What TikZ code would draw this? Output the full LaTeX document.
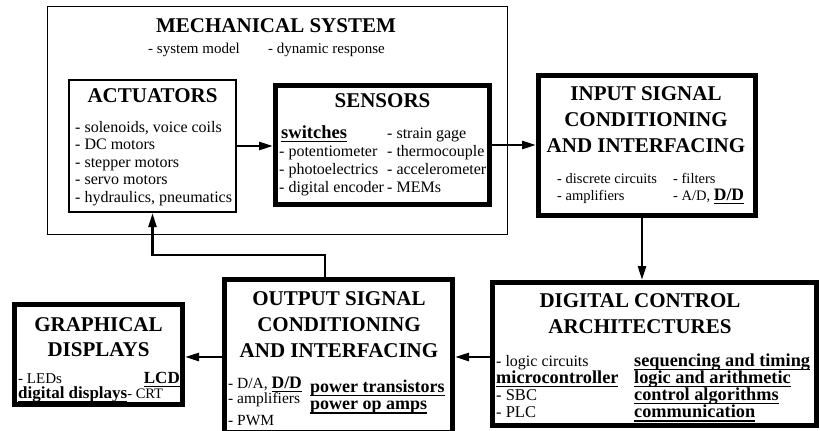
\documentclass[tikz,border=0pt]{standalone}
\usepackage{fontspec}
\setmainfont{Liberation Serif}
\usetikzlibrary{arrows.meta,positioning}

% bold text with a heavier underline close to the baseline
\newcommand{\bul}[1]{\leavevmode\setbox0\hbox{\textbf{#1}}\rlap{\rule[-4pt]{\wd0}{1.1pt}}\box0}
\newcommand{\fs}[1]{\fontsize{#1}{#1}\selectfont}

\begin{document}
\begin{tikzpicture}[x=1pt, y=-1pt,
	thinbox/.style={draw, line width=1.2pt, inner sep=0pt},
	actbox/.style={draw, line width=2.2pt, inner sep=0pt},
	thickbox/.style={draw, line width=5pt, inner sep=0pt},
	title/.style={anchor=base, inner sep=0pt, font=\fs{21}\bfseries},
	item/.style={anchor=base west, inner sep=0pt, font=\fs{16}},
	conn/.style={line width=2.5pt, -{Triangle[length=14pt,width=8pt]}}]

		\useasboundingbox (0,0) rectangle (820,431);

		% mechanical system (outer frame)
		\node[thinbox, minimum width=460pt, minimum height=228pt] (mech) at (277.5,120.5) {};
		\node[title] (mech-t) at (276,32) {MECHANICAL SYSTEM};
		\node[item, font=\fs{15}] (mech-a) at (148,53) {- system model};
		\node[item, font=\fs{15}] (mech-b) at (268,53) {- dynamic response};

		% actuators
		\node[actbox, minimum width=167pt, minimum height=132pt] (act) at (152.5,146) {};
		\node[title] (act-t) at (152.5,102) {ACTUATORS};
		\foreach \txt [count=\i] in {{solenoids, voice coils}, DC motors, stepper motors, servo motors, {hydraulics, pneumatics}}
			\node[item] (act-\i) at (75, 114.5+17.6*\i) {- \txt};

		% sensors
		\node[thickbox, minimum width=214pt, minimum height=119pt] (sens) at (382.5,145) {};
		\node[title] (sens-t) at (382.5,107) {SENSORS};
		\node[item, font=\fs{18.5}] (sens-sw) at (281,138) {\bul{switches}};
		\foreach \txt [count=\i] in {potentiometer, photoelectrics, digital encoder}
			\node[item] (sens-l\i) at (279, 138+18.3*\i) {- \txt};
		\foreach \txt [count=\i] in {strain gage, thermocouple, accelerometer, MEMs}
			\node[item] (sens-r\i) at (387, 119.7+18.3*\i) {- \txt};

		% input signal conditioning
		\node[thickbox, minimum width=217pt, minimum height=140pt] (input) at (647,145.5) {};
		\foreach \txt [count=\i] in {INPUT SIGNAL, CONDITIONING, AND INTERFACING}
			\node[title] (input-t\i) at (646, 74+26*\i) {\txt};
		\node[item, font=\fs{14.5}] (input-a) at (557,183) {- discrete circuits};
		\node[item, font=\fs{14.5}] (input-b) at (557,200) {- amplifiers};
		\node[item, font=\fs{14.5}] (input-c) at (673,183) {- filters};
		\node[item, font=\fs{14.5}] (input-d) at (673,200) {- A/D, {\fs{17.5}\bul{D/D}}};

		% digital control architectures
		\node[thickbox, minimum width=324pt, minimum height=143pt] (dig) at (654.5,354) {};
		\node[title] (dig-t1) at (640,307) {DIGITAL CONTROL};
		\node[title] (dig-t2) at (640,333) {ARCHITECTURES};
		\node[item, font=\fs{16}] (dig-l1) at (496,366) {- logic circuits};
		\node[item, font=\fs{18.3}] (dig-l2) at (496,383) {\bul{microcontroller}};
		\node[item, font=\fs{16.5}] (dig-l3) at (496,400) {- SBC};
		\node[item, font=\fs{16.5}] (dig-l4) at (496,417.5) {- PLC};
		\foreach \txt/\yy [count=\i] in {sequencing and timing/366, logic and arithmetic/383, control algorithms/400, communication/417.5}
			\node[item, font=\fs{18.3}] (dig-r\i) at (634,\yy) {\bul{\txt}};

		% output signal conditioning
		\node[thickbox, minimum width=228pt, minimum height=153pt] (out) at (338.5,356) {};
		\foreach \txt [count=\i] in {OUTPUT SIGNAL, CONDITIONING, AND INTERFACING}
			\node[title] (out-t\i) at (339, 279+26*\i) {\txt};
		\node[item, font=\fs{15.5}] (out-l1) at (228,388) {- D/A, {\fs{17.5}\bul{D/D}}};
		\node[item, font=\fs{15.5}] (out-l2) at (228,403) {- amplifiers};
		\node[item, font=\fs{15.5}] (out-l3) at (228,425) {- PWM};
		\node[item, font=\fs{18}] (out-r1) at (310,392) {\bul{power transistors}};
		\node[item, font=\fs{18}] (out-r2) at (310,409.5) {\bul{power op amps}};

		% graphical displays
		\node[thickbox, minimum width=168pt, minimum height=100pt] (graph) at (98.5,354.5) {};
		\node[title] (graph-t1) at (98.5,331.7) {GRAPHICAL};
		\node[title] (graph-t2) at (98.5,356.7) {DISPLAYS};
		\node[item, font=\fs{15}] (graph-a) at (18,383) {- LEDs};
		\node[item, anchor=base east, font=\fs{17}] (graph-b) at (180,383) {\bul{LCD}};
		\node[item, font=\fs{17}] (graph-c) at (18,398) {\bul{digital displays}\fs{14.5}- CRT};

		% signal flow
		\draw[conn] (act.east) -- (act.east -| sens.west);
		\draw[conn] (sens.east) -- (sens.east -| input.west);
		\coordinate (in-down) at ([xshift=-5pt]input.south);
		\draw[conn] (in-down) -- (in-down |- dig.north);
		\coordinate (dig-left) at ([yshift=-3pt]dig.west);
		\draw[conn] (dig-left) -- (dig-left -| out.east);
		\coordinate (out-left) at ([yshift=-1pt]out.west);
		\draw[conn] (out-left) -- (out-left -| graph.east);

		% feedback to the actuators
		\coordinate (fb) at ([xshift=-13.5pt]out.north);
		\coordinate (fb-turn) at (0,255);
		\draw[conn] (fb) -- (fb |- fb-turn) -| (act.south);

\end{tikzpicture}
\end{document}
